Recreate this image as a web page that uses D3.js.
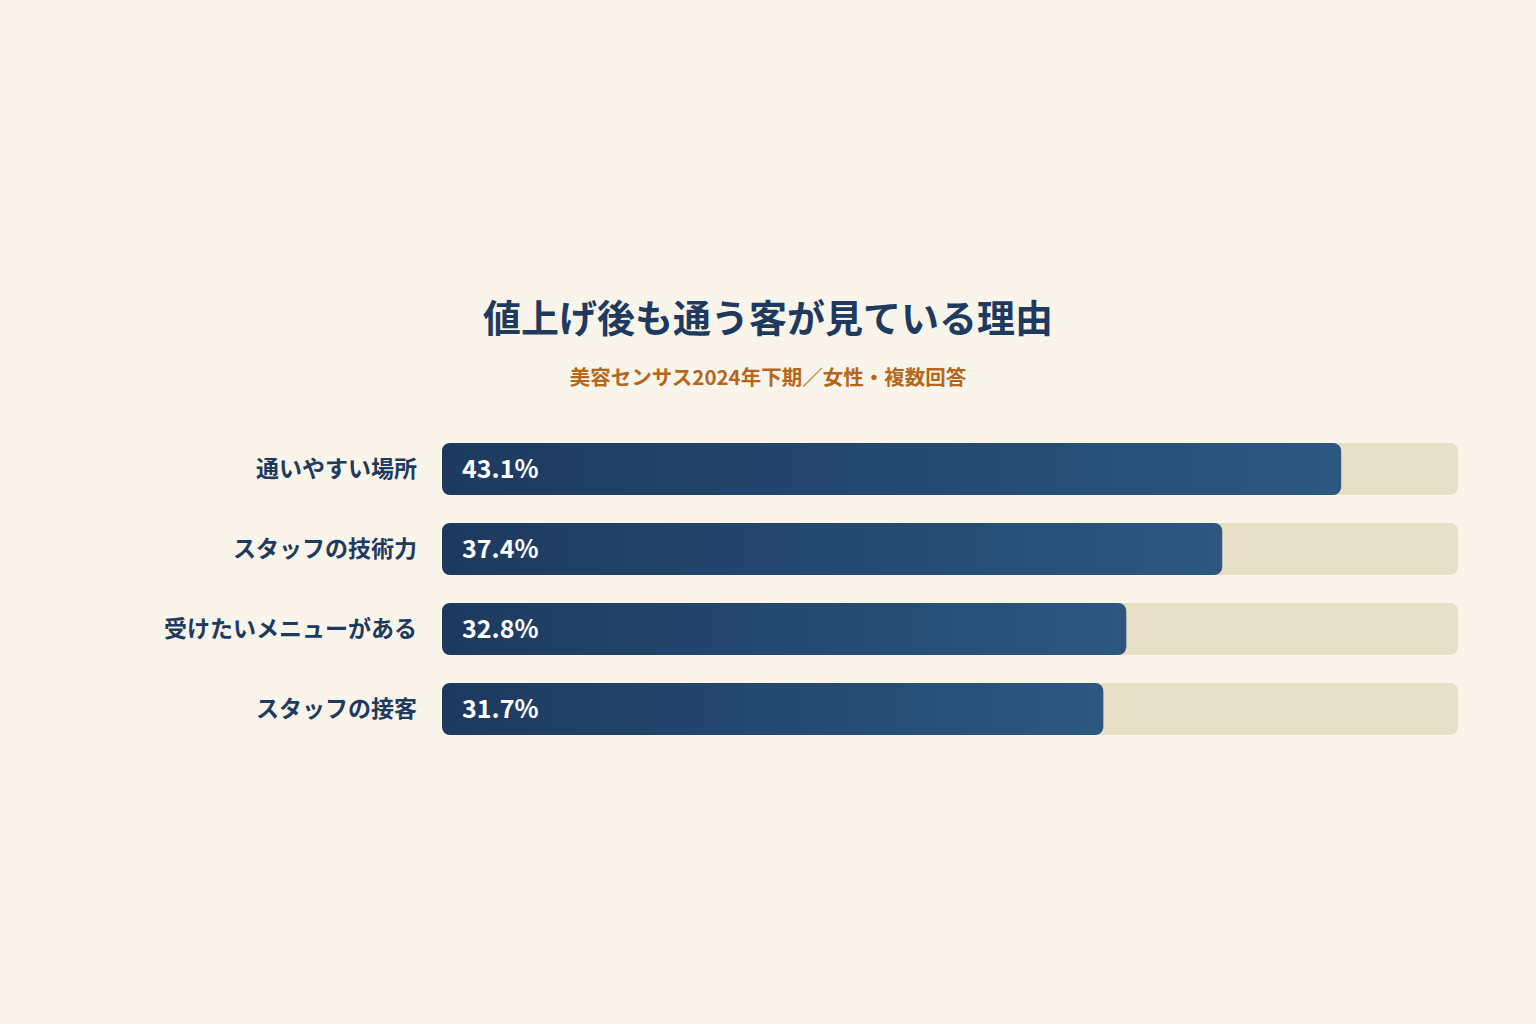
<!DOCTYPE html>
<html><head><meta charset="utf-8">
<script src="https://cdn.jsdelivr.net/npm/d3@7"></script>
<style>body{margin:0;background:#faf5ea;}svg{display:block}</style>
</head><body>
<script>
const categories = ["通いやすい場所","スタッフの技術力","受けたいメニューがある","スタッフの接客"];
const values = [43.1, 37.4, 32.8, 31.7];
const title = "値上げ後も通う客が見ている理由";
const subtitle = "美容センサス2024年下期／女性・複数回答";

const W=1536,H=1024;
const svg=d3.select("body").append("svg").attr("width",W).attr("height",H);
svg.append("rect").attr("width",W).attr("height",H).attr("fill","#faf5ea");
const font="'Noto Sans CJK JP','Noto Sans',sans-serif";
const defs=svg.append("defs");
const g=defs.append("linearGradient").attr("id","grad");
g.append("stop").attr("offset","0%").attr("stop-color","#1d3a5e");
g.append("stop").attr("offset","100%").attr("stop-color","#2c5781");

svg.append("text").attr("x",768).attr("y",332).attr("text-anchor","middle")
 .attr("font-family",font).attr("font-weight",700).attr("font-size",38).attr("fill","#1e3a5f").text(title);
svg.append("text").attr("x",768).attr("y",385).attr("text-anchor","middle")
 .attr("font-family",font).attr("font-weight",700).attr("font-size",20.5).attr("fill","#b5661a").text(subtitle);

const x=d3.scaleLinear().domain([0,48.7]).range([442,1458]);
const y=d3.scaleBand().domain(categories).range([429,749]).paddingInner(0.35).paddingOuter(0.175);
const row=svg.selectAll("g.row").data(categories).join("g");
row.append("rect").attr("x",x(0)).attr("y",d=>y(d)).attr("width",x.range()[1]-x(0)).attr("height",y.bandwidth())
 .attr("rx",8).attr("fill","#e8dfc7");
row.append("rect").attr("x",x(0)).attr("y",d=>y(d)).attr("width",(d,i)=>x(values[i])-x(0)).attr("height",y.bandwidth())
 .attr("rx",8).attr("fill","url(#grad)");
row.append("text").attr("x",417).attr("y",d=>y(d)+y.bandwidth()/2).attr("dy","0.36em").attr("text-anchor","end")
 .attr("font-family",font).attr("font-weight",700).attr("font-size",23).attr("fill","#1e3a5f").text(d=>d);
row.append("text").attr("x",x(0)+20).attr("y",d=>y(d)+y.bandwidth()/2).attr("dy","0.36em")
 .attr("font-family",font).attr("font-weight",700).attr("font-size",25).attr("fill","#fff").text((d,i)=>values[i].toFixed(1)+"%");
</script>
</body></html>
